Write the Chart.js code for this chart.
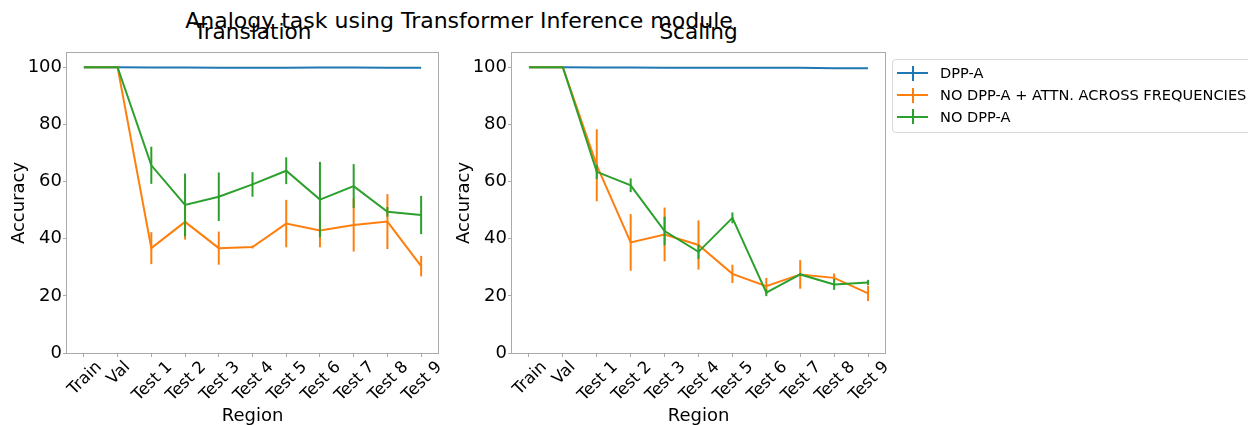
<!DOCTYPE html>
<html>
<head>
<meta charset="utf-8">
<script src="https://cdn.jsdelivr.net/npm/chart.js@4.4.0/dist/chart.umd.min.js"></script>
<style>
body{margin:0;width:1248px;height:425px;overflow:hidden;background:#fff;position:relative;font-family:'DejaVu Sans',sans-serif;color:#000;}
.t{position:absolute;text-align:center;font-size:21.6px;line-height:26px;white-space:nowrap;}
canvas{position:absolute;top:0;}
#legend{position:absolute;left:892px;top:59px;width:380px;height:72px;border:1px solid #d9d9d9;border-radius:4px;background:#fff;}
.row{position:absolute;left:0;height:22px;display:flex;align-items:center;font-size:14.6px;line-height:22px;white-space:nowrap;}
.h{position:relative;width:31px;height:22px;margin-left:4px;margin-right:12px;}
.h:before{content:'';position:absolute;left:0;right:0;top:10px;height:2px;background:var(--c);}
.h:after{content:'';position:absolute;left:14.5px;width:2px;top:3.5px;height:15px;background:var(--c);}
</style>
</head>
<body>
<div class="t" style="left:0;width:918px;top:8.3px;font-size:22px;">Analogy task using Transformer Inference module</div>
<div class="t" style="left:67px;width:371px;top:18.8px;">Translation</div>
<div class="t" style="left:512px;width:373px;top:18.8px;">Scaling</div>
<canvas id="c1" width="450" height="425" style="left:0;"></canvas>
<canvas id="c2" width="455" height="425" style="left:445px;"></canvas>
<div id="legend"></div>
<script>
var regions = ['Train', 'Val', 'Test 1', 'Test 2', 'Test 3', 'Test 4', 'Test 5', 'Test 6', 'Test 7', 'Test 8', 'Test 9'];
var seriesNames = ['DPP-A', 'NO DPP-A + ATTN. ACROSS FREQUENCIES', 'NO DPP-A'];
var colors = ['#1f77b4', '#ff7f0e', '#2ca02c'];
var yTicks = [0, 20, 40, 60, 80, 100];

// translation
var transDpp = [100, 100, 99.9, 99.9, 99.8, 99.8, 99.8, 99.9, 99.9, 99.8, 99.8];
var transDppErr = [0, 0, 0, 0, 0, 0, 0, 0, 0, 0, 0];
var transAttn = [100, 100, 36.7, 45.9, 36.7, 37.1, 45.3, 42.9, 44.8, 46.0, 30.4];
var transAttnErr = [0, 0, 5.6, 6.2, 5.8, 0.5, 8.3, 5.9, 9.3, 9.6, 3.6];
var transNo = [100, 100, 65.7, 51.8, 54.7, 59.0, 63.8, 53.7, 58.4, 49.4, 48.3];
var transNoErr = [0, 0, 6.5, 11, 8.5, 4.3, 4.7, 13.2, 7.7, 1.7, 6.7];

// scaling
var scaleDpp = [100, 100, 99.9, 99.9, 99.8, 99.8, 99.8, 99.8, 99.8, 99.7, 99.7];
var scaleDppErr = [0, 0, 0, 0, 0, 0, 0, 0, 0, 0, 0];
var scaleAttn = [100, 100, 65.7, 38.7, 41.5, 37.8, 27.7, 23.4, 27.5, 26.3, 20.9];
var scaleAttnErr = [0, 0, 12.6, 9.9, 9.4, 8.6, 3.2, 2.9, 5, 1.5, 2.7];
var scaleNo = [100, 100, 63.4, 58.7, 42.7, 35.4, 47.3, 21.1, 27.5, 24.0, 24.7];
var scaleNoErr = [0, 0, 2.5, 2.4, 5, 2.5, 1.9, 1.2, 0.5, 1.9, 0.9];

var fontFamily = "'DejaVu Sans', sans-serif";
var spineColor = '#aaaaaa';
Chart.defaults.font.family = fontFamily;
Chart.defaults.color = '#000';

// vertical error bars, drawn right after each dataset's line
var errorBars = {
  id: 'errorBars',
  afterDatasetDraw: function(chart, args) {
    var ds = chart.data.datasets[args.index];
    if (!ds.errors) return;
    var ctx = chart.ctx, xs = chart.scales.x, ys = chart.scales.y;
    ctx.save();
    ctx.strokeStyle = ds.borderColor;
    ctx.lineWidth = 2;
    ds.data.forEach(function(v, i) {
      var e = ds.errors[i];
      if (!e) return;
      var x = xs.getPixelForValue(i);
      ctx.beginPath();
      ctx.moveTo(x, ys.getPixelForValue(v - e));
      ctx.lineTo(x, ys.getPixelForValue(v + e));
      ctx.stroke();
    });
    ctx.restore();
  }
};

// box round the axes + rotated, centred x tick labels (matplotlib look)
var axesDecor = {
  id: 'axesDecor',
  afterDraw: function(chart) {
    var ctx = chart.ctx, a = chart.chartArea, xs = chart.scales.x;
    ctx.save();
    ctx.strokeStyle = spineColor;
    ctx.lineWidth = 1;
    ctx.strokeRect(a.left - 0.5, a.top - 0.5, a.right - a.left + 1, a.bottom - a.top + 1);

    var size = 16.5, capH = size * 0.729;
    ctx.font = size + 'px ' + fontFamily;
    ctx.fillStyle = '#000';
    ctx.textAlign = 'center';
    ctx.textBaseline = 'alphabetic';
    chart.data.labels.forEach(function(lab, i) {
      var w = ctx.measureText(lab).width;
      var x = xs.getPixelForValue(i);
      var y = a.bottom + 6 + (w + capH) * 0.7071 / 2;
      ctx.save();
      ctx.translate(x, y);
      ctx.rotate(-Math.PI / 4);
      ctx.fillText(lab, 0, capH / 2);
      ctx.restore();
    });
    ctx.restore();
  }
};

function makeChart(id, rightPad, dpp, dppErr, attn, attnErr, no, noErr) {
  var vals = [dpp, attn, no], errs = [dppErr, attnErr, noErr];
  var datasets = vals.map(function(v, k) {
    return {
      label: seriesNames[k],
      data: v,
      errors: errs[k],
      borderColor: colors[k],
      backgroundColor: colors[k],
      borderWidth: 2,
      pointRadius: 0,
      tension: 0,
      fill: false,
      order: 3 - k
    };
  });
  return new Chart(document.getElementById(id), {
    type: 'line',
    data: { labels: regions, datasets: datasets },
    plugins: [errorBars, axesDecor],
    options: {
      responsive: false,
      animation: false,
      devicePixelRatio: 1,
      layout: { padding: { top: 53, right: rightPad, left: 0, bottom: 0 } },
      plugins: { legend: { display: false }, tooltip: { enabled: false }, title: { display: false } },
      scales: {
        x: {
          type: 'category',
          offset: true,
          border: { display: false },
          grid: { display: true, drawOnChartArea: false, drawTicks: true, tickLength: 4, color: spineColor },
          ticks: { display: false, autoSkip: false },
          title: { display: true, text: 'Region', font: { size: 18 }, color: '#000', padding: { top: 0, bottom: -2.5 } },
          afterFit: function(s) { s.height = 72; }
        },
        y: {
          min: 0,
          max: 105,
          border: { display: false },
          grid: { display: true, drawOnChartArea: false, drawTicks: true, tickLength: 4, color: spineColor },
          afterBuildTicks: function(s) { s.ticks = yTicks.map(function(v) { return { value: v }; }); },
          ticks: { font: { size: 18 }, color: '#000', padding: 1 },
          title: { display: true, text: 'Accuracy', font: { size: 18 }, color: '#000', padding: { top: 8.5, bottom: 0 } },
          afterFit: function(s) { s.width = 67; }
        }
      }
    }
  });
}

makeChart('c1', 12, transDpp, transDppErr, transAttn, transAttnErr, transNo, transNoErr);
makeChart('c2', 15, scaleDpp, scaleDppErr, scaleAttn, scaleAttnErr, scaleNo, scaleNoErr);

// legend, to the right of the second axes
var legend = document.getElementById('legend');
var rowTops = [2.3, 24, 45.7];
seriesNames.forEach(function(name, k) {
  var row = document.createElement('div');
  row.className = 'row';
  row.style.top = rowTops[k] + 'px';
  var h = document.createElement('span');
  h.className = 'h';
  h.style.setProperty('--c', colors[k]);
  var t = document.createElement('span');
  t.textContent = name;
  row.appendChild(h);
  row.appendChild(t);
  legend.appendChild(row);
});
</script>
</body>
</html>
